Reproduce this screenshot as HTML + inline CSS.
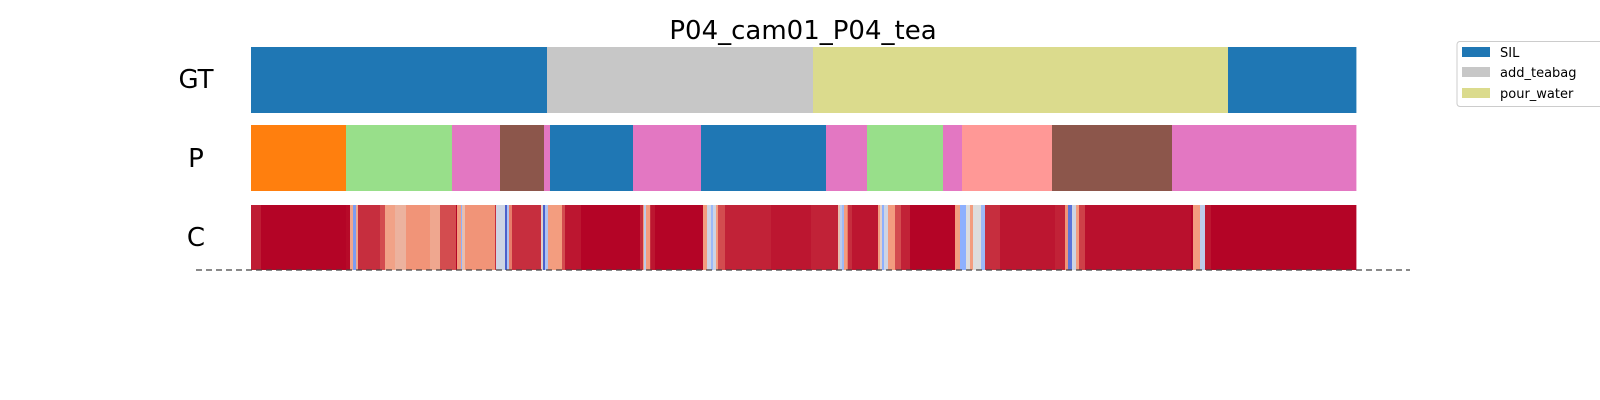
<!DOCTYPE html>
<html><head><meta charset="utf-8"><style>
html,body{margin:0;padding:0;background:#fff;width:1600px;height:400px;overflow:hidden}
text{font-family:"DejaVu Sans","Liberation Sans",sans-serif}
</style></head><body>
<svg id="chart" width="1600" height="400" xmlns="http://www.w3.org/2000/svg">
<text x="803" y="39" text-anchor="middle" font-size="26">P04_cam01_P04_tea</text>
<text x="196" y="88" text-anchor="middle" font-size="26">GT</text>
<text x="196" y="167" text-anchor="middle" font-size="26">P</text>
<text x="196" y="246" text-anchor="middle" font-size="26">C</text>
<g id="gt"></g>
<g id="pr"></g>
<g id="cf"></g>
<line x1="196" y1="270" x2="1410" y2="270" stroke="#444" stroke-width="1.3" stroke-dasharray="6,4"/>
<g>
<rect x="1457" y="41.5" width="160" height="65" rx="3" fill="#fff" stroke="#ccc"/>
<rect x="1462" y="47" width="28" height="10" fill="#1f77b4"/>
<text x="1500" y="57" font-size="13">SIL</text>
<rect x="1462" y="67" width="28" height="10" fill="#c7c7c7"/>
<text x="1500" y="77" font-size="13">add_teabag</text>
<rect x="1462" y="88" width="28" height="10" fill="#dbdb8d"/>
<text x="1500" y="98" font-size="13">pour_water</text>
</g>
</svg>
<script>
const totalFrames = 1105;
const gtStarts = [0, 296, 562, 977];
const gtColors = ["#1f77b4","#c7c7c7","#dbdb8d","#1f77b4"];
const predStarts = [0, 95, 201, 249, 293, 299, 382, 450, 575, 616, 692, 711, 801, 921];
const predColors = ["#ff7f0e","#98df8a","#e377c2","#8c564b","#e377c2","#1f77b4","#e377c2","#1f77b4","#e377c2","#98df8a","#e377c2","#ff9896","#8c564b","#e377c2"];
const confStarts = [0,10,95,99,102,105,107,129,134,144,155,179,189,205,206,210,211,214,244,245,254,256,258,261,290,292,294,297,311,314,330,389,392,393,395,399,400,404,452,456,460,462,465,467,474,520,560,587,589,591,593,596,597,601,627,629,631,633,637,644,650,659,704,709,715,719,722,730,734,749,804,814,817,821,825,828,834,940,942,949,954,960];
const confVals = [0.96,1.0,0.99,0.7,0.2,0.7,0.93,0.88,0.72,0.66,0.76,0.7,0.88,1.0,0.74,0.25,0.62,0.76,0.93,0.45,0.05,0.35,0.8,0.93,0.55,0.05,0.35,0.74,0.88,0.97,1.0,0.93,0.74,0.4,0.74,0.93,0.97,1.0,0.74,0.45,0.3,0.45,0.74,0.88,0.95,0.97,0.95,0.62,0.4,0.3,0.74,0.8,0.93,0.97,0.74,0.55,0.25,0.45,0.74,0.88,0.95,1.0,0.74,0.25,0.5,0.74,0.5,0.3,0.93,0.97,0.95,0.76,0.1,0.45,0.74,0.9,0.98,1.0,0.74,0.4,0.97,1.0];
const X0 = 251, X1 = 1356;
const xs = f => X0 + (X1 - X0) * f / totalFrames;
const NS = "http://www.w3.org/2000/svg";
function coolwarm(v){
  const a=[[0,59,76,192],[0.25,141,176,254],[0.5,221,221,221],[0.75,244,154,123],[1,180,4,38]];
  for(let i=0;i<a.length-1;i++){ if(v<=a[i+1][0]){ const t=(v-a[i][0])/(a[i+1][0]-a[i][0]);
    return "rgb("+[1,2,3].map(k=>Math.round(a[i][k]+t*(a[i+1][k]-a[i][k]))).join(",")+")"; } }
  return "rgb(180,4,38)";
}
function drawRow(g, starts, colorOf, y, h, name){
  for(let i=0;i<starts.length;i++){
    const s=starts[i], e=i+1<starts.length?starts[i+1]:totalFrames;
    const r=document.createElementNS(NS,"rect");
    r.setAttribute("x",xs(s)); r.setAttribute("y",y);
    r.setAttribute("width",xs(e)-xs(s)+0.4); r.setAttribute("height",h);
    r.setAttribute("fill",colorOf(i));
    
    
    g.appendChild(r);
  }
}
drawRow(document.getElementById("gt"), gtStarts, i=>gtColors[i], 47, 66, "gt-segment");
drawRow(document.getElementById("pr"), predStarts, i=>predColors[i], 125, 66, "prediction-segment");
drawRow(document.getElementById("cf"), confStarts, i=>coolwarm(confVals[i]), 205, 65, "confidence-cell");
</script>
</body></html>
